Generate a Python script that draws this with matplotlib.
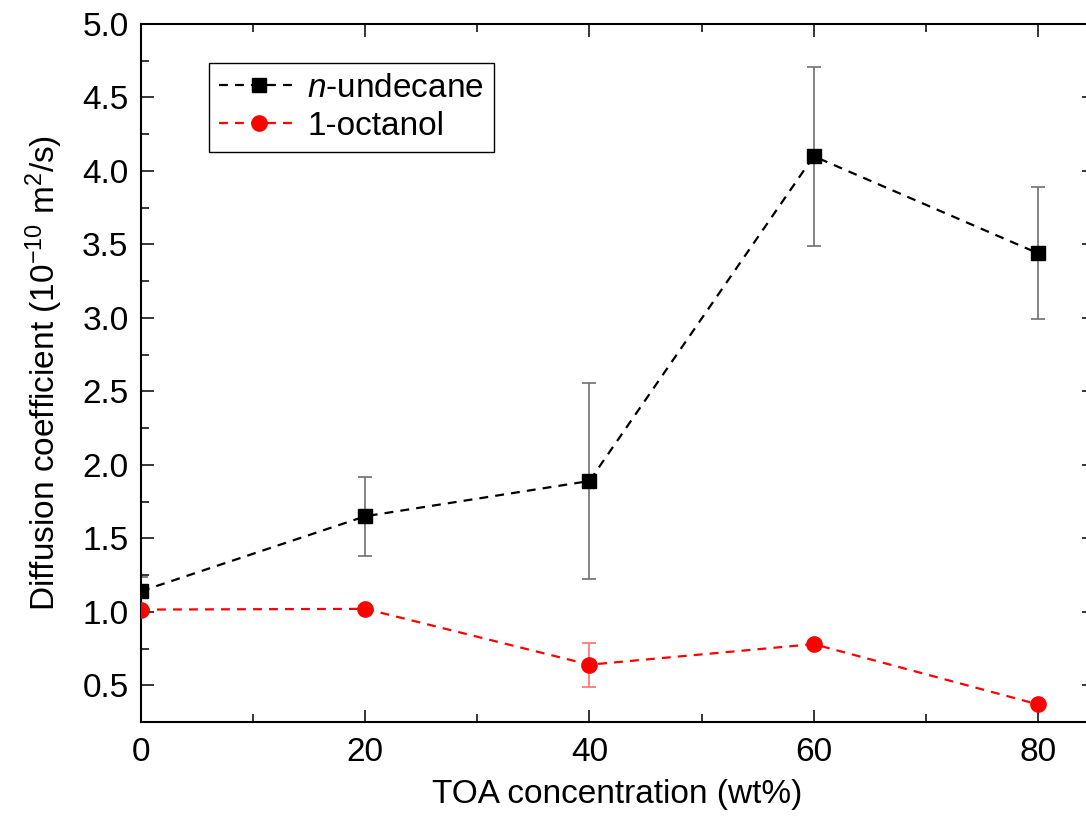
import matplotlib
matplotlib.use("Agg")
import matplotlib.pyplot as plt
from matplotlib.ticker import MultipleLocator

plt.rcParams["font.family"] = ["Liberation Sans", "DejaVu Sans"]
plt.rcParams["mathtext.fontset"] = "custom"
plt.rcParams["mathtext.rm"] = "Liberation Sans"
plt.rcParams["mathtext.it"] = "Liberation Sans:italic"

# ── Data ──────────────────────────────────────────────────────────────────────
toa = [0, 20, 40, 60, 80]

undecane = [1.14, 1.65, 1.89, 4.10, 3.44]
undecane_err = [0.10, 0.27, 0.67, 0.61, 0.45]

octanol = [1.015, 1.02, 0.64, 0.78, 0.37]
octanol_err = [0.0, 0.0, 0.15, 0.0, 0.0]

FS = 24

# ── Figure ────────────────────────────────────────────────────────────────────
fig = plt.figure(figsize=(10.86, 8.25), dpi=100)
ax = fig.add_axes([141 / 1086, 1 - 722 / 825, (1094 - 141) / 1086, (722 - 24) / 825])

ax.errorbar(toa, undecane, yerr=undecane_err, fmt="none", ecolor="#707070",
            elinewidth=1.2, capsize=5, capthick=1.2, zorder=2)
ax.errorbar(toa, octanol, yerr=octanol_err, fmt="none", ecolor="#ff7070",
            elinewidth=1.2, capsize=5, capthick=1.2, zorder=2)

ax.plot(toa, undecane, color="black", linestyle=(0, (4, 3.2)), linewidth=1.6,
        marker="s", markersize=10, label=r"$\mathit{n}$-undecane", zorder=3)
ax.plot(toa, octanol, color="red", linestyle=(0, (4, 3.2)), linewidth=1.6,
        marker="o", markersize=11, label="1-octanol", zorder=3)

ax.set_xlim(0, 85)
ax.set_ylim(0.25, 5.0)
ax.xaxis.set_major_locator(MultipleLocator(20))
ax.xaxis.set_minor_locator(MultipleLocator(10))
ax.yaxis.set_minor_locator(MultipleLocator(0.25))
ax.set_yticks([0.5, 1.0, 1.5, 2.0, 2.5, 3.0, 3.5, 4.0, 4.5, 5.0])

ax.tick_params(which="both", direction="in", top=True, right=True, width=1.1)
ax.tick_params(which="major", length=9, labelsize=FS, pad=9)
ax.tick_params(axis="x", which="major", pad=11)
ax.tick_params(which="minor", length=5.5)
for sp in ax.spines.values():
    sp.set_linewidth(1.5)

ax.set_xlabel("TOA concentration (wt%)", fontsize=FS, labelpad=8)
ax.set_ylabel(r"Diffusion coefficient (10$^{\mathregular{-10}}$ m$^{\mathregular{2}}$/s)",
              fontsize=FS, labelpad=12)

leg = ax.legend(loc="upper left", bbox_to_anchor=(0.0714, 0.944), borderaxespad=0,
                fontsize=FS, handlelength=2.4, frameon=True, fancybox=False,
                edgecolor="black", framealpha=1, borderpad=0.3, labelspacing=0.2,
                handletextpad=0.25)
leg.get_frame().set_linewidth(1.0)

fig.savefig("out.png", dpi=100)
